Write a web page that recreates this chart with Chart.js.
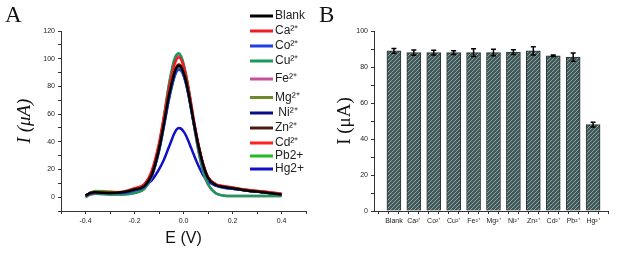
<!DOCTYPE html>
<html>
<head>
<meta charset="utf-8">
<script src="https://cdn.jsdelivr.net/npm/chart.js@4"></script>
<style>
  body { margin: 0; background: #fff; }
  #wrap { position: relative; width: 623px; height: 254px; }
  canvas { position: absolute; top: 0; }
  .tag { position: absolute; top: 2px; font: 23px "Liberation Serif", serif; color: #111; }
</style>
</head>
<body>
<div id="wrap">
  <canvas id="chartA" width="320" height="254" style="left:0"></canvas>
  <canvas id="chartB" width="303" height="254" style="left:320px"></canvas>
  <div class="tag" style="left:5px">A</div>
  <div class="tag" style="left:319px">B</div>
</div>
<script>
// ---- panel A: voltammograms ----
const potential = [-0.4, -0.38, -0.36, -0.3, -0.25, -0.2, -0.16, -0.13, -0.1, -0.08, -0.06, -0.05, -0.04, -0.03, -0.02, -0.01,
  0, 0.01, 0.02, 0.03, 0.04, 0.06, 0.08, 0.1, 0.13, 0.16, 0.2, 0.25, 0.3, 0.35, 0.4];

const curveLabels = ['Blank', 'Ca²⁺', 'Co²⁺', 'Cu²⁺', 'Fe²⁺', 'Mg²⁺', ' Ni²⁺', 'Zn²⁺', 'Cd²⁺', 'Pb2+', 'Hg2+'];
const curveColors = ['#000000', '#ee1c25', '#1f3fe0', '#1a9a5a', '#c8509a', '#6f8a2a', '#0a0a8a', '#4a1a10', '#ff2020', '#22bb22', '#1010c8'];

const blank = [1, 3, 3.5, 3, 3.5, 5.5, 8, 16, 35, 53, 73, 81, 88, 93, 95, 94, 90, 84, 75.5, 66, 56, 38, 23.5, 14, 9, 7.5, 6.5, 5, 4, 3, 2];
const ca = [1, 3, 3.5, 3.5, 4, 6.5, 9.5, 19, 39, 58, 78, 86.5, 94, 99, 101, 99.5, 95, 88, 79, 69, 58, 39, 24, 14.5, 9.5, 8, 7, 5.5, 4.5, 3.5, 2.5];
const co = [1, 2.5, 3, 3, 3, 5, 7.5, 15, 33, 51, 70, 78, 85, 90, 92, 91.5, 88, 82, 74, 64.5, 55, 37, 23, 13.5, 8.5, 7, 6, 5, 4, 3, 2];
const cu = [0, 2, 2.5, 2, 2, 3, 6, 15, 37, 58, 81, 90, 98, 102.5, 104, 102, 96.5, 88.5, 79, 68, 56, 35, 19, 9.5, 3, 1.2, 0.8, 0.8, 0.8, 0.8, 0.8];
const fe = [0, 2, 2.5, 2, 2, 3, 6, 14.5, 36, 57, 80, 89, 97, 101.5, 103, 101, 95.5, 87.5, 78, 67, 55, 34, 18.5, 9, 3, 1.2, 0.8, 0.8, 0.8, 0.8, 0.8];
const mg = [1, 3, 4, 3.5, 3.5, 5.5, 8, 15.5, 34, 52, 71, 79, 86, 91, 93, 92.5, 88.5, 82.5, 74.5, 65, 55, 37.5, 23, 14, 9, 7.5, 6.5, 5, 4, 3, 2];
const ni = [1, 3, 3.5, 3, 3, 5, 7.5, 15.5, 34.5, 52.5, 72, 80, 87, 92, 94, 93.5, 89.5, 83, 75, 65.5, 55.5, 37.5, 23, 14, 9, 7.5, 6.5, 5, 4, 3, 2];
const zn = [1, 3, 3.5, 3, 3.5, 5.5, 8, 16, 35, 53.5, 73.5, 81.5, 88.5, 93, 95, 94.5, 90.5, 84, 75.5, 66, 56, 38, 23.5, 14, 9, 7.5, 6.5, 5, 4, 3, 2];
const cd = [1, 3, 3.5, 3, 3.5, 6, 9, 17.5, 37, 55, 75, 83, 89.5, 94, 96, 95, 91, 84.5, 76, 66.5, 56.5, 38.5, 24, 14.5, 9.5, 8, 7, 5.5, 4.5, 3.5, 2.5];
const pb = [0.5, 3, 4.5, 4, 3.5, 5.5, 8, 15.5, 34, 52, 71, 79, 86, 91, 93, 92.5, 88.5, 82.5, 74.5, 65, 55, 37.5, 23, 14, 9, 7.5, 6.5, 5, 4, 3, 2];
const hg = [1, 3, 3, 3, 3.5, 5, 8, 12, 20, 27, 36, 40.5, 45, 48.5, 50, 49.5, 47.5, 44.5, 40.5, 36, 31.5, 23, 16, 11.5, 8.5, 7, 6, 5, 4, 3, 2];
const curves = [blank, ca, co, cu, fe, mg, ni, zn, cd, pb, hg];

// ---- panel B: peak currents ----
const ions = ['Blank', 'Ca²⁺', 'Co²⁺', 'Cu²⁺', 'Fe²⁺', 'Mg²⁺', 'Ni²⁺', 'Zn²⁺', 'Cd²⁺', 'Pb²⁺', 'Hg²⁺'];
const peakCurrent = [89, 88, 88, 88, 88, 88, 88.3, 89, 86.2, 85.5, 48];
const peakError = [1.3, 1.5, 1.3, 1.0, 2.2, 1.8, 1.3, 2.3, 0.4, 2.3, 1.3];

const tickFont = { family: 'Liberation Sans', size: 7 };
const axisColor = '#333';

// legend drawn at the right side of panel A, like the original
const sideLegend = {
  id: 'sideLegend',
  afterDraw(chart) {
    const c = chart.ctx;
    const rows = [16, 31, 46, 61, 79, 97.5, 113, 128, 143, 156, 169];
    c.save();
    c.font = '12px "Liberation Sans"';
    c.textBaseline = 'middle';
    chart.data.datasets.forEach((ds, i) => {
      const y = rows[i];
      c.strokeStyle = ds.borderColor;
      c.lineWidth = 3;
      c.beginPath();
      c.moveTo(250, y);
      c.lineTo(273, y);
      c.stroke();
      c.fillStyle = '#222';
      c.fillText(ds.label, 275, y);
    });
    c.restore();
  }
};

new Chart(document.getElementById('chartA'), {
  type: 'line',
  data: {
    labels: potential,
    datasets: curves.map((vals, i) => ({
      label: curveLabels[i],
      data: vals.map((v, k) => ({ x: potential[k], y: v })),
      borderColor: curveColors[i],
      borderWidth: 2.5,
      pointRadius: 0,
      cubicInterpolationMode: 'monotone'
    }))
  },
  options: {
    responsive: false,
    animation: false,
    devicePixelRatio: 1,
    layout: { padding: { top: 31, right: 14, left: 0, bottom: 0 } },
    plugins: { legend: { display: false }, tooltip: { enabled: false } },
    scales: {
      x: {
        type: 'linear',
        min: -0.5,
        max: 0.5,
        afterFit: s => { s.height = 43; },
        grid: { drawOnChartArea: false, tickLength: 3, color: axisColor },
        border: { color: axisColor },
        ticks: {
          stepSize: 0.1,
          font: tickFont,
          color: '#222',
          maxRotation: 0,
          autoSkip: false,
          callback: v => {
            const r = Math.round(v * 10);
            return (r % 2 === 0 && Math.abs(r) <= 4) ? (r / 10).toFixed(1) : '';
          }
        },
        title: { display: true, text: 'E (V)', font: { family: 'Liberation Sans', size: 16 }, color: '#111', padding: { top: 0, bottom: 6 } }
      },
      y: {
        min: -10,
        max: 120,
        afterFit: s => { s.width = 61; },
        grid: { drawOnChartArea: false, tickLength: 3, color: axisColor },
        border: { color: axisColor },
        ticks: {
          stepSize: 10,
          font: tickFont,
          color: '#222',
          autoSkip: false,
          callback: v => (v >= 0 && v % 20 === 0) ? v : ''
        },
        title: { display: true, text: 'I (μA)', font: { family: 'Liberation Serif', size: 19, style: 'italic' }, color: '#111', padding: { top: 14, bottom: 0 } }
      }
    }
  },
  plugins: [sideLegend]
});

// hatched fill for the bars
function hatch() {
  const p = document.createElement('canvas');
  p.width = 4; p.height = 4;
  const g = p.getContext('2d');
  g.fillStyle = '#435a5a';
  g.fillRect(0, 0, 4, 4);
  g.strokeStyle = '#8aa0a0';
  g.lineWidth = 1;
  g.beginPath();
  g.moveTo(0, 4); g.lineTo(4, 0);
  g.moveTo(-1, 1); g.lineTo(1, -1);
  g.moveTo(3, 5); g.lineTo(5, 3);
  g.stroke();
  return g.createPattern(p, 'repeat');
}

const errorBars = {
  id: 'errorBars',
  afterDatasetsDraw(chart) {
    const c = chart.ctx;
    const xs = chart.scales.x, ys = chart.scales.y;
    c.save();
    c.strokeStyle = '#000';
    c.lineWidth = 1.5;
    peakCurrent.forEach((v, i) => {
      const x = xs.getPixelForValue(i);
      const top = ys.getPixelForValue(v + peakError[i]);
      const bot = ys.getPixelForValue(v - peakError[i]);
      c.beginPath();
      c.moveTo(x, top); c.lineTo(x, bot);
      c.moveTo(x - 2.5, top); c.lineTo(x + 2.5, top);
      c.moveTo(x - 2.5, bot); c.lineTo(x + 2.5, bot);
      c.stroke();
    });
    c.restore();
  }
};

new Chart(document.getElementById('chartB'), {
  type: 'bar',
  data: {
    datasets: [{
      label: 'I',
      data: peakCurrent.map((v, i) => ({ x: i, y: v })),
      backgroundColor: hatch(),
      borderColor: '#2a3535',
      borderWidth: 1,
      barThickness: 14
    }]
  },
  options: {
    responsive: false,
    animation: false,
    devicePixelRatio: 1,
    layout: { padding: { top: 31, right: 15, left: 0, bottom: 0 } },
    plugins: { legend: { display: false }, tooltip: { enabled: false } },
    scales: {
      x: {
        type: 'linear',
        min: -1,
        max: 10.75,
        offset: false,
        afterFit: s => { s.height = 43; },
        grid: { drawOnChartArea: false, tickLength: 3, color: axisColor },
        border: { color: axisColor },
        ticks: {
          stepSize: 0.5,
          includeBounds: false,
          font: tickFont,
          color: '#222',
          maxRotation: 0,
          autoSkip: false,
          callback: v => (Number.isInteger(v) && v >= 0) ? ions[v] : ''
        }
      },
      y: {
        min: 0,
        max: 100,
        afterFit: s => { s.width = 54; },
        grid: { drawOnChartArea: false, tickLength: 3, color: axisColor },
        border: { color: axisColor },
        ticks: {
          stepSize: 10,
          font: tickFont,
          color: '#222',
          autoSkip: false,
          callback: v => (v % 20 === 0) ? v : ''
        },
        title: { display: true, text: 'I (μA)', font: { family: 'Liberation Serif', size: 19 }, color: '#111', padding: { top: 14, bottom: 0 } }
      }
    }
  },
  plugins: [errorBars]
});
</script>
</body>
</html>
